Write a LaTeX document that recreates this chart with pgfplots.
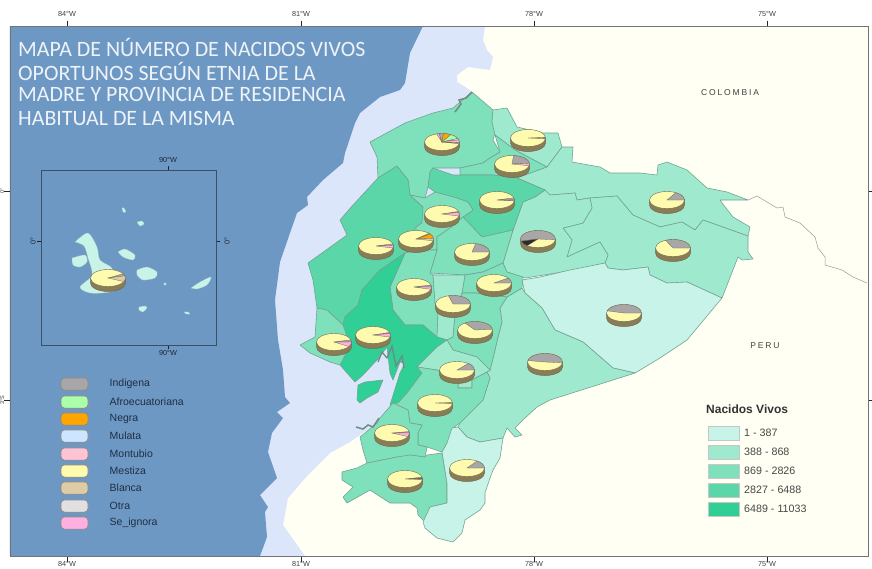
\documentclass[border=0pt]{standalone}
\usepackage{fontspec}
\setmainfont{Liberation Sans}
\newfontfamily\titlefont{Carlito}
\newfontfamily\paisfont[LetterSpace=22]{Liberation Sans}
\usepackage{pgfplots}
\pgfplotsset{compat=1.18}
% map colours
\definecolor{oceano}{HTML}{6E98C4}
\definecolor{agua}{HTML}{DCE6FB}
\definecolor{tierra}{HTML}{FFFFF3}
\definecolor{bnd}{HTML}{74A393}
\definecolor{cA}{HTML}{C8F3E8}
\definecolor{cB}{HTML}{9FEACF}
\definecolor{cC}{HTML}{7FE0BC}
\definecolor{cD}{HTML}{5AD6A8}
\definecolor{cE}{HTML}{2FCF96}
% ethnic colours
\definecolor{indi}{HTML}{A9A6A8}
\definecolor{afro}{HTML}{AAFFA8}
\definecolor{negra}{HTML}{FFA500}
\definecolor{mula}{HTML}{CDE6FF}
\definecolor{mont}{HTML}{FFC3D6}
\definecolor{mest}{HTML}{FFFBAE}
\definecolor{blan}{HTML}{DFCBA6}
\definecolor{otra}{HTML}{E0E0E0}
\definecolor{sign}{HTML}{FFB0E0}
\definecolor{oscu}{HTML}{6E6C58}
\definecolor{negro}{HTML}{2A2A30}
\definecolor{piese}{HTML}{8A7C54}
\definecolor{pieln}{HTML}{6F6A50}
\definecolor{mangle}{HTML}{6F8B82}
\definecolor{leyenda}{HTML}{1F2F42}
% a pie is a plot mark: brown side, yellow top, then the other slices
\newcommand\defpie[2]{\pgfdeclareplotmark{#1}{%
  \fill[piese,draw=pieln,line width=.5pt] (-17.5pt,0pt) -- (-17.5pt,-5pt)
    arc[start angle=180,end angle=360,x radius=17.5pt,y radius=8.5pt] -- (17.5pt,0pt) -- cycle;
  \fill[mest,draw=pieln,line width=.4pt] (0pt,0pt) ellipse [x radius=17.5pt,y radius=8.5pt];
  \foreach \c/\a/\b in {#2}{%
    \fill[\c,draw=pieln,line width=.3pt] (0pt,0pt) -- (\a:17.5pt and 8.5pt)
      arc[start angle=\a,end angle=\b,x radius=17.5pt,y radius=8.5pt] -- cycle;}%
}}
\defpie{pA}{indi/85/100,sign/100/108,negra/60/85,afro/25/60,mula/15/25,sign/-5/15,indi/-12/-5}
\defpie{pB}{oscu/-4/4}
\defpie{pC}{indi/5/85,sign/-12/5}
\defpie{pD}{indi/0/15,sign/-6/0}
\defpie{pE}{indi/12/18,sign/-14/12}
\defpie{pF}{indi/-5/195,negro/195/232}
\defpie{pG}{indi/35/42,negra/5/35,blan/-12/5}
\defpie{pH}{indi/5/15,sign/-14/5}
\defpie{pI}{indi/0/78}
\defpie{pJ}{indi/0/14,sign/-16/0}
\defpie{pK}{indi/0/36}
\defpie{pL}{indi/0/105}
\defpie{pM}{indi/5/125}
\defpie{pN}{indi/0/15,sign/-32/0}
\defpie{pO}{indi/10/18,sign/-14/10}
\defpie{pP}{indi/-5/170}
\defpie{pQ}{indi/0/50}
\defpie{pR}{oscu/-3/3}
\defpie{pS}{indi/0/10,sign/-25/0}
\defpie{pT}{oscu/-3/12}
\defpie{pU}{indi/0/55}
\defpie{pV}{indi/0/60}
\defpie{pW}{indi/0/115}
\defpie{pX}{indi/0/165}
\defpie{pY}{indi/15/30,blan/-25/15}
% legend swatches
\newcommand\defsw[1]{\pgfdeclareplotmark{sw#1}{%
  \filldraw[fill=#1,draw=black!45,line width=.9pt,rounded corners=3.5pt] (-13.5pt,-6.2pt) rectangle (13.5pt,6.2pt);}}
\defsw{indi}\defsw{afro}\defsw{negra}\defsw{mula}\defsw{mont}\defsw{mest}\defsw{blan}\defsw{otra}\defsw{sign}
\pgfdeclareplotmark{recto}{%
  \pgfpathrectangle{\pgfpoint{-15.5pt}{-7.2pt}}{\pgfpoint{31pt}{14.4pt}}\pgfusepathqfillstroke}
% helpers
\newcommand\zona[2]{\addplot[fill=#1,draw=none] coordinates {#2};}
\newcommand\prov[2]{\addplot[fill=#1,draw=bnd,line width=.6pt,line join=round] coordinates {#2};}
\newcommand\pie[3]{\addplot[only marks,mark=#1] coordinates {(#2,#3)};}
\newcommand\isla[1]{\addplot[smooth,tension=.5,fill=cA,draw=cA!80!black,line width=.2pt] coordinates {#1};}
\newcommand\etn[3]{\addplot[only marks,mark=sw#1] coordinates {(74.5,#2)};
  \node[anchor=west,font=\fontsize{10.5}{12}\selectfont,text=leyenda,inner sep=0pt] at (axis cs:109.5,#2) {#3};}
\newcommand\cla[3]{\addplot[only marks,mark=recto,mark options={fill=#1,draw=black!22,line width=.6pt}] coordinates {(723.5,#2)};
  \node[anchor=west,font=\fontsize{10.7}{12}\selectfont,text=black!72,inner sep=0pt] at (axis cs:744,#2) {#3};}
\newcommand\tit[2]{\node[anchor=west,font=\titlefont\fontsize{21.9}{24}\selectfont,text=white!88!oceano,inner sep=0pt] at (axis cs:18,#1) {#2};}
\begin{document}
\begin{tikzpicture}
\path[use as bounding box] (0pt,0pt) rectangle (872pt,568pt);
\begin{axis}[
  at={(10pt,12pt)},anchor=south west,scale only axis,width=858pt,height=530pt,
  xmin=10,xmax=868,ymin=26,ymax=556,y dir=reverse,
  enlargelimits=false,clip=false,axis on top,
  axis line style={draw=black!55,line width=.9pt},
  tick align=outside,tick pos=both,major tick length=5.5pt,
  tick style={black!85,line width=1pt},
  xtick={67,301,534,767},xticklabels={84°W,81°W,78°W,75°W},
  ytick={191,400},yticklabels={0°,3°S},
  xticklabel style={font=\fontsize{7.3}{8}\selectfont,text=black!75,yshift=3.5pt},
  yticklabel style={font=\fontsize{5.5}{6}\selectfont,text=black!75,rotate=90,anchor=south,inner sep=0pt},
]
% sea and neighbours
\zona{tierra}{(10,26)(868,26)(868,556)(10,556)}
\zona{agua}{(10,26)(485,26)(483,40)(487,50)(493,57)(490,70)(468,67)(457,75)(457,82)(467,88)(472,92)(440,300)(410,400)(360,435)(350,442)(330,453)(308,475)(288,498)(283,525)(305,556)(10,556)}
\zona{oceano}{(10,26)(423,26)(410,53)(405,83)(400,90)(380,97)(360,113)(355,123)(345,153)(343,163)(323,180)(307,197)(308,205)(297,213)(290,233)(280,262)(275,300)(278,340)(283,370)(285,397)(290,403)(277,412)(283,418)(272,433)(268,452)(277,478)(260,495)(268,507)(265,512)(267,537)(260,556)(10,556)}
% border running off to the east
\addplot[draw=black!40,line width=.5pt] coordinates {(748,200)(757,196)(777,208)(783,207)(785,217)(800,223)(815,237)(818,248)(825,257)(825,265)(842,270)(853,277)(867,283)};
% provinces
\prov{cC}{(472,92)(493,110)(492,122)(495,133)(493,140)(500,152)(490,158)(483,163)(460,168)(433,168)(430,172)(428,187)(425,198)(410,195)(408,180)(397,166)(378,178)(377,157)(370,142)(405,123)(433,113)(453,108)(472,92)}
\prov{cD}{(397,166)(408,180)(410,195)(423,207)(422,223)(416,227)(417,250)(405,253)(380,270)(362,290)(358,305)(345,317)(343,325)(327,310)(317,308)(313,280)(308,263)(347,235)(340,220)(353,205)(378,178)(397,166)}
\prov{cB}{(493,110)(507,108)(517,127)(543,133)(558,133)(562,147)(550,163)(547,167)(530,158)(515,150)(495,135)(492,122)(493,110)}
\prov{cC}{(495,135)(500,152)(490,158)(483,163)(460,168)(460,175)(493,175)(517,178)(547,167)(530,158)(515,150)(495,135)}
\prov{cB}{(562,147)(573,147)(572,162)(600,167)(610,173)(640,173)(657,175)(658,165)(667,162)(687,170)(707,188)(727,192)(748,200)(720,200)(722,203)(733,217)(750,227)(748,236)(703,220)(695,230)(682,222)(660,227)(633,215)(617,196)(590,198)(577,200)(575,193)(550,195)(545,190)(517,178)(547,167)(550,163)(562,147)}
\prov{cB}{(590,198)(617,196)(633,215)(660,227)(682,222)(695,230)(703,220)(748,236)(748,252)(753,259)(742,260)(738,257)(722,298)(687,282)(667,283)(650,275)(648,267)(623,270)(608,268)(605,263)(608,255)(600,242)(567,257)(572,240)(563,228)(583,223)(592,208)(590,198)}
\prov{cB}{(535,197)(545,190)(550,195)(575,193)(577,200)(590,198)(592,208)(583,223)(563,228)(572,240)(567,257)(600,242)(608,255)(605,263)(575,270)(525,278)(507,272)(503,263)(513,230)(523,202)(535,197)}
\prov{cA}{(522,280)(540,277)(570,270)(605,263)(608,268)(623,270)(648,267)(650,275)(667,283)(687,282)(722,298)(687,340)(660,358)(635,373)(613,368)(583,342)(555,330)(542,308)(525,293)(522,280)}
\prov{cB}{(507,297)(522,288)(525,293)(542,308)(555,330)(583,342)(613,368)(635,373)(550,400)(537,407)(525,418)(515,428)(522,435)(515,437)(507,428)(503,438)(480,442)(467,437)(458,427)(460,423)(483,400)(490,378)(487,372)(490,370)(495,350)(498,337)(502,322)(500,308)(507,297)}
\prov{cD}{(433,168)(453,175)(493,175)(517,178)(545,190)(535,197)(523,202)(513,230)(482,237)(463,217)(473,210)(468,202)(457,198)(435,192)(428,187)(430,172)(433,168)}
\prov{cC}{(410,195)(425,198)(435,192)(457,198)(468,202)(473,210)(463,217)(450,228)(437,237)(437,250)(417,250)(416,227)(422,223)(423,207)(410,195)}
\prov{cC}{(437,237)(450,228)(463,217)(482,237)(513,230)(503,263)(483,272)(465,275)(430,273)(437,250)(437,237)}
\prov{cC}{(405,253)(417,250)(437,250)(430,273)(433,275)(435,303)(438,313)(437,337)(423,325)(405,325)(393,310)(390,287)(405,253)}
\prov{cC}{(465,275)(483,272)(503,263)(507,272)(523,277)(522,288)(507,297)(475,293)(462,293)(465,275)}
\prov{cB}{(433,275)(465,275)(462,293)(455,315)(453,337)(447,340)(437,337)(438,313)(435,303)(433,275)}
\prov{cC}{(462,293)(475,293)(507,297)(500,308)(502,322)(498,337)(495,350)(490,370)(477,357)(453,350)(447,340)(453,337)(455,315)(462,293)}
\prov{cE}{(405,253)(380,270)(362,290)(358,305)(345,317)(343,325)(350,345)(340,365)(355,382)(363,375)(377,360)(387,347)(390,373)(393,380)(400,362)(405,363)(400,373)(390,405)(400,403)(407,393)(422,373)(417,367)(437,347)(447,340)(437,337)(423,325)(405,325)(393,310)(390,287)(405,253)}
\prov{cC}{(300,345)(315,337)(317,308)(327,310)(343,325)(350,345)(340,365)(330,362)(310,353)(300,345)}
\prov{cE}{(358,385)(365,382)(383,380)(378,392)(367,398)(360,403)(357,400)(358,385)}
\prov{cB}{(417,367)(437,347)(447,340)(453,350)(477,357)(490,370)(487,372)(472,380)(472,388)(458,388)(458,382)(437,370)(417,367)}
\prov{cC}{(398,403)(407,393)(422,373)(417,367)(437,370)(458,382)(458,388)(472,388)(472,380)(487,372)(490,378)(483,400)(460,423)(453,428)(447,443)(442,452)(427,447)(418,445)(418,433)(422,425)(410,423)(408,410)(393,403)(398,403)}
\prov{cC}{(393,403)(380,418)(377,423)(360,437)(363,450)(367,463)(397,457)(407,457)(410,455)(425,457)(427,447)(418,445)(418,433)(422,425)(410,423)(408,410)(393,403)}
\prov{cC}{(367,463)(357,468)(342,472)(342,480)(353,487)(343,497)(347,503)(370,490)(390,503)(410,503)(417,508)(418,515)(425,522)(430,507)(447,503)(447,483)(442,453)(427,455)(425,457)(410,455)(397,457)(367,463)}
\prov{cA}{(442,452)(447,443)(452,428)(458,427)(467,437)(480,442)(503,438)(500,458)(493,470)(490,478)(485,493)(485,503)(480,510)(465,520)(462,533)(453,542)(437,538)(425,528)(423,522)(430,507)(447,503)(447,483)(442,452)}
% mangrove tangles
\addplot[draw=mangle,line width=1.5pt] coordinates {(455,112)(461,104)(459,100)(466,98)(472,92)};
\addplot[draw=mangle,line width=1.3pt] coordinates {(378,362)(382,352)(387,358)(392,346)(396,366)(402,356)(404,368)};
\addplot[draw=mangle,line width=1.5pt] coordinates {(356,427)(363,429)(368,425)(373,427)(379,418)};
% pies
\pie{pA}{442}{142}\pie{pB}{528}{138}\pie{pC}{512}{164}\pie{pD}{497}{200}
\pie{pE}{442}{214}\pie{pF}{538}{239}\pie{pG}{416}{239}\pie{pH}{376}{246}
\pie{pI}{472}{252}\pie{pJ}{414}{287}\pie{pK}{494}{283}\pie{pL}{453}{304}
\pie{pM}{475}{330}\pie{pN}{334}{342}\pie{pO}{373}{335}\pie{pP}{545}{362}
\pie{pQ}{457}{370}\pie{pR}{435}{403}\pie{pS}{392}{433}\pie{pT}{405}{479}
\pie{pU}{467}{468}\pie{pV}{667}{200}\pie{pW}{673}{248}\pie{pX}{624}{313}
% title
\tit{47}{MAPA DE NÚMERO DE NACIDOS VIVOS}
\tit{71}{OPORTUNOS SEGÚN ETNIA DE LA}
\tit{94}{MADRE Y PROVINCIA DE RESIDENCIA}
\tit{118}{HABITUAL DE LA MISMA}
% country names
\node[font=\paisfont\fontsize{8.5}{10}\selectfont,text=black!75] at (axis cs:730,93) {COLOMBIA};
\node[font=\paisfont\fontsize{8.5}{10}\selectfont,text=black!75] at (axis cs:765,346) {PERU};
% ethnic legend
\etn{indi}{384}{Indigena}
\etn{afro}{402}{Afroecuatoriana}
\etn{negra}{419}{Negra}
\etn{mula}{436}{Mulata}
\etn{mont}{454}{Montubio}
\etn{mest}{471}{Mestiza}
\etn{blan}{488}{Blanca}
\etn{otra}{506}{Otra}
\etn{sign}{523}{Se\_ignora}
% class legend
\node[anchor=west,font=\bfseries\fontsize{12}{14}\selectfont,text=black!80,inner sep=0pt] at (axis cs:706,409) {Nacidos Vivos};
\cla{cA}{433}{1 - 387}
\cla{cB}{452}{388 - 868}
\cla{cC}{471}{869 - 2826}
\cla{cD}{490}{2827 - 6488}
\cla{cE}{509}{6489 - 11033}
% labels of the upper side
\node[font=\fontsize{7.3}{8}\selectfont,text=black!75] at (axis cs:67,14) {84°W};
\node[font=\fontsize{7.3}{8}\selectfont,text=black!75] at (axis cs:301,14) {81°W};
\node[font=\fontsize{7.3}{8}\selectfont,text=black!75] at (axis cs:534,14) {78°W};
\node[font=\fontsize{7.3}{8}\selectfont,text=black!75] at (axis cs:767,14) {75°W};
\end{axis}
% Galapagos inset
\begin{axis}[
  at={(41pt,223pt)},anchor=south west,scale only axis,width=175pt,height=175pt,
  xmin=41,xmax=216,ymin=170,ymax=345,y dir=reverse,
  enlargelimits=false,clip=false,axis on top,
  axis background/.style={fill=oceano},
  axis line style={draw=black!30!oceano!75!black,line width=.8pt},
  tick align=outside,tick pos=both,major tick length=4pt,
  tick style={black!75!oceano,line width=1pt},
  xtick={168},xticklabels={90°W},ytick={241},yticklabels={0°},
  ticklabel style={font=\fontsize{7.3}{8}\selectfont,text=black!75!oceano},
  yticklabel style={rotate=90,anchor=south,inner sep=1pt},
  xticklabel style={yshift=2pt},
]
\isla{(75,242)(88,233)(97,247)(100,260)(112,268)(113,280)(125,285)(110,292)(90,293)(80,287)(92,275)(88,258)(84,246)(75,242)}
\isla{(72,258)(85,255)(87,262)(80,267)(73,265)(72,258)}
\isla{(118,252)(125,249)(135,255)(133,260)(123,257)(118,252)}
\isla{(137,270)(147,267)(157,272)(155,278)(143,280)(137,275)(137,270)}
\isla{(191,288)(200,282)(211,277)(207,285)(197,289)(191,288)}
\isla{(139,307)(145,306)(147,308)(143,312)(139,310)(139,307)}
\isla{(184,312)(188,312)(190,314)(186,314)(184,312)}
\isla{(137,222)(142,221)(144,224)(140,226)(137,222)}
\isla{(122,208)(124,208)(126,212)(123,212)(122,208)}
\isla{(164,283)(166,283)(166,285)(164,285)(164,283)}
\pie{pY}{108}{278}
\node[font=\fontsize{7.3}{8}\selectfont,text=black!75!oceano] at (axis cs:168,160) {90°W};
\node[font=\fontsize{7.3}{8}\selectfont,text=black!75!oceano,rotate=90] at (axis cs:227,241) {0°};
\end{axis}
\end{tikzpicture}
\end{document}
